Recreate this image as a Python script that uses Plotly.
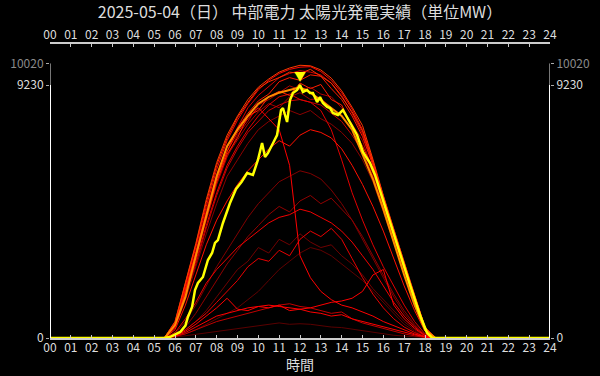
import plotly.graph_objects as go

TITLE = "2025-05-04（日） 中部電力 太陽光発電実績（単位MW）"
X_TITLE = "時間"
HOUR_TICKS = list(range(25))
HOUR_LABELS = [f"{h:02d}" for h in HOUR_TICKS]
Y_TICKS = [0, 9230, 10020]
Y_LABELS = ["0", "9230", "10020"]

HOURS = [0, 5.0, 5.5, 6.0, 6.5, 7.0, 7.5, 8.0, 8.5, 9.0, 9.5, 10.0, 10.5, 11.0, 11.5,
         12.0, 12.5, 13.0, 13.5, 14.0, 14.5, 15.0, 15.5, 16.0, 16.5, 17.0, 17.5, 18.0,
         18.5, 19.0, 24]

# past days (MW), drawn in red shades
L2 = [0, 0, 0, 30, 80, 150, 200, 250, 300, 350, 400, 450, 500, 550, 500, 520, 500, 450, 400, 380, 320, 260, 200, 150, 100, 70, 40, 10, 0, 0, 0]
L12 = [0, 0, 0, 50, 150, 300, 500, 700, 900, 1100, 1400, 1700, 2100, 2500, 2800, 3100, 3300, 3200, 3000, 2700, 2400, 2100, 1700, 1300, 900, 500, 250, 50, 0, 0, 0]
L10 = [0, 0, 0, 80, 300, 600, 1000, 1500, 2000, 2500, 2800, 3300, 3100, 3600, 3400, 3800, 3500, 3300, 3400, 3000, 2700, 2300, 1800, 1400, 1000, 600, 300, 70, 0, 0, 0]
L7 = [0, 0, 0, 150, 600, 1200, 1900, 2600, 3200, 3800, 4400, 4900, 5300, 5700, 5900, 6100, 6000, 5800, 5400, 4900, 4300, 3600, 2900, 2200, 1500, 900, 450, 100, 0, 0, 0]
L5 = [0, 0, 0, 100, 400, 900, 1500, 2100, 2700, 3200, 3700, 4100, 4500, 4800, 4600, 5000, 5200, 4900, 5100, 4700, 4300, 3700, 3000, 2300, 1600, 1000, 500, 120, 0, 0, 0]
C8 = [0, 0, 5, 350, 1400, 2600, 3800, 4900, 5900, 6500, 7100, 7600, 7900, 8100, 8300, 8150, 8300, 8000, 7800, 7500, 7100, 6500, 5700, 4600, 3500, 2350, 1250, 280, 0, 0, 0]
C11 = [0, 0, 5, 420, 1600, 2950, 4350, 5650, 6650, 7250, 7800, 8250, 8550, 8400, 8800, 8950, 8700, 8750, 8400, 8100, 7600, 6900, 6000, 4850, 3700, 2500, 1350, 310, 0, 0, 0]
C5 = [0, 0, 5, 400, 1650, 2900, 4300, 5600, 6600, 7400, 7900, 8500, 8700, 8950, 9200, 9050, 9150, 8900, 8800, 8400, 7800, 7200, 6100, 4900, 3700, 2500, 1350, 300, 0, 0, 0]
L3 = [0, 0, 0, 50, 150, 300, 450, 600, 700, 800, 900, 1000, 1100, 1200, 1250, 1150, 1100, 1000, 900, 950, 700, 550, 450, 350, 250, 150, 80, 20, 0, 0, 0]
C7 = [0, 0, 5, 380, 1500, 2700, 4000, 5200, 6200, 6900, 7500, 7900, 8300, 8500, 8650, 8700, 8600, 8500, 8200, 7900, 7400, 6800, 5900, 4800, 3600, 2450, 1300, 300, 0, 0, 0]
C3 = [0, 0, 15, 480, 1800, 3150, 4650, 5950, 6950, 7700, 8400, 8850, 9180, 9500, 9650, 9750, 9700, 9600, 9300, 8850, 8200, 7450, 6350, 5050, 3850, 2650, 1450, 350, 0, 0, 0]
L9 = [0, 0, 5, 380, 1500, 2800, 4100, 5300, 6300, 7000, 7600, 8100, 8500, 8800, 8900, 8700, 8600, 8300, 7600, 6500, 5300, 4300, 3400, 2600, 1900, 1200, 600, 150, 0, 0, 0]
L13 = [0, 0, 0, 100, 300, 600, 900, 1300, 1700, 2100, 2600, 2900, 2800, 3200, 3000, 3600, 3900, 3700, 4000, 3600, 2900, 2200, 1600, 1100, 700, 400, 200, 50, 0, 0, 0]
L6 = [0, 0, 0, 200, 700, 1300, 2000, 2500, 2900, 3300, 3600, 3900, 4200, 4400, 4500, 4700, 4600, 4400, 4200, 3900, 3500, 3000, 2500, 1900, 1300, 800, 400, 100, 0, 0, 0]
L11 = [0, 0, 5, 300, 1200, 2300, 3400, 4300, 5000, 5600, 6100, 6500, 6900, 7200, 7000, 7400, 7600, 7500, 7300, 6900, 6300, 5600, 4800, 3900, 2900, 1900, 1000, 250, 0, 0, 0]
L1 = [0, 0, 0, 80, 250, 500, 800, 1100, 1450, 1050, 1000, 1150, 1100, 1200, 1000, 1050, 950, 900, 800, 850, 700, 600, 500, 400, 300, 200, 120, 40, 0, 0, 0]
L4 = [0, 0, 0, 60, 200, 400, 600, 800, 900, 1000, 1100, 1150, 1200, 1150, 1100, 1050, 1100, 1200, 1300, 1350, 1450, 1700, 2300, 2500, 1200, 700, 350, 80, 0, 0, 0]
L8 = [0, 0, 10, 450, 1750, 3100, 4500, 5800, 6800, 7500, 8000, 8400, 8000, 7600, 6300, 3000, 2200, 1700, 1400, 1200, 1100, 950, 800, 600, 450, 300, 150, 40, 0, 0, 0]
C4 = [0, 0, 10, 450, 1750, 3050, 4500, 5800, 6800, 7650, 8200, 8650, 8900, 9350, 9500, 9400, 9600, 9550, 9100, 8700, 8100, 7350, 6300, 5000, 3800, 2600, 1400, 330, 0, 0, 0]
C6 = [0, 0, 8, 430, 1700, 3000, 4400, 5700, 6700, 7300, 8100, 8300, 8800, 9000, 8850, 9300, 9100, 9250, 8700, 8500, 7700, 7000, 6200, 4950, 3750, 2550, 1380, 320, 0, 0, 0]
C2 = [0, 0, 10, 520, 1900, 3300, 4800, 6150, 7200, 7950, 8550, 9050, 9400, 9650, 9800, 9880, 9900, 9720, 9400, 8950, 8350, 7600, 6450, 5150, 3900, 2700, 1500, 380, 0, 0, 0]
C10 = [0, 0, 20, 580, 2000, 3400, 4950, 6300, 7300, 8050, 8600, 9100, 9350, 9500, 9700, 9650, 9800, 9550, 9300, 8800, 8250, 7550, 6400, 5150, 3950, 2700, 1500, 390, 0, 0, 0]
C1 = [0, 0, 20, 600, 2050, 3450, 5050, 6400, 7400, 8100, 8700, 9150, 9450, 9700, 9850, 9950, 9930, 9780, 9480, 9020, 8420, 7750, 6520, 5200, 3980, 2750, 1550, 400, 0, 0, 0]

PAST_DAYS = [L2, L12, L10, L7, L5, C8, C11, C5, L3, C7, C3, L9, L13, L6, L11, L1, L4, L8, C4, C6, C2, C10, C1]
PAST_COLORS = ["#5a0000", "#600000", "#700000", "#800000", "#900000", "#8a0000", "#a00000",
               "#b00000", "#c00000", "#c80000", "#d80000", "#e00000", "#e80000", "#f00000",
               "#ff1000", "#ff0000", "#ff0000", "#ff0000", "#ff1a00", "#ff2000", "#ff0000",
               "#ff3000", "#ff3a00"]

# previous day (orange)
PREV_DAY = [0, 0, 0, 474, 1500, 3000, 4500, 5900, 7000, 7600, 8100, 8550, 8800, 8950, 9050, 9150, 8950, 8680, 8390, 8100, 7600, 6700, 5800, 4700, 3500, 2300, 1200, 300, 0, 0, 0]

# today (yellow)
TODAY_HOURS = [0, 5.5, 5.75, 6.0, 6.25, 6.5, 6.62, 6.82, 6.96, 7.1, 7.34, 7.58, 7.78, 7.92,
               8.06, 8.3, 8.64, 8.93, 9.2, 9.46, 9.74, 9.98, 10.18, 10.32, 10.46, 10.66, 10.9,
               11.09, 11.18, 11.38, 11.52, 11.66, 11.86, 12.0, 12.14, 12.34, 12.48, 12.62,
               12.82, 12.96, 13.1, 13.3, 13.44, 13.58, 13.82, 14.06, 14.26, 14.4, 14.74,
               15.02, 15.36, 15.6, 15.98, 16.42, 16.8, 17.28, 17.76, 18.1, 18.35, 24]
TODAY = [0, 0, 36, 120, 219, 450, 766, 1131, 1751, 2006, 2225, 2846, 3101, 3466,
         3575, 4196, 4925, 5436, 5700, 6020, 5947, 6494, 7114, 6603, 6749, 7041, 7406,
         8318, 8391, 7880, 8683, 8938, 9048, 9230, 8975, 9048, 8938, 8938,
         8610, 8792, 8574, 8428, 8391, 8209, 8136, 8318, 8063, 7880, 7406,
         6786, 6384, 5947, 5035, 3940, 3028, 1934, 839, 182, 0, 0]
assert len(TODAY) == len(TODAY_HOURS)
for s in PAST_DAYS + [PREV_DAY]:
    assert len(s) == len(HOURS)

FONT = "Noto Sans CJK JP"
TXT = "#dddddd"
GREY = "#8a8a8a"

fig = go.Figure()
for vals, col in zip(PAST_DAYS, PAST_COLORS):
    fig.add_trace(go.Scatter(x=HOURS, y=vals, mode="lines",
                             line=dict(color=col, width=1), hoverinfo="skip"))
fig.add_trace(go.Scatter(x=HOURS, y=PREV_DAY, mode="lines",
                         line=dict(color="#ff8c00", width=2), hoverinfo="skip"))
fig.add_trace(go.Scatter(x=TODAY_HOURS, y=TODAY, mode="lines",
                         line=dict(color="#ffff00", width=2.5), hoverinfo="skip"))
# dummy traces for the top and right axes
fig.add_trace(go.Scatter(x=[0], y=[0], xaxis="x2", yaxis="y", mode="markers",
                         marker=dict(opacity=0), hoverinfo="skip"))
fig.add_trace(go.Scatter(x=[0], y=[0], xaxis="x", yaxis="y2", mode="markers",
                         marker=dict(opacity=0), hoverinfo="skip"))

peak = max(TODAY)
peak_h = TODAY_HOURS[TODAY.index(peak)]
fig.add_annotation(x=peak_h, y=peak, text="▼", showarrow=False, yshift=10,
                   font=dict(color="#ffff00", size=12, family=FONT))

# x-axis title
fig.add_annotation(xref="paper", yref="paper", x=0.5, y=0, yanchor="bottom",
                   yshift=-38, text=X_TITLE, showarrow=False,
                   font=dict(color=TXT, size=14, family=FONT))

ymax = max(Y_TICKS)
ytop_label = Y_TICKS[1]
for xs in (0, 24):
    fig.add_shape(type="line", xref="x", yref="y", x0=xs, x1=xs, y0=0, y1=ytop_label,
                  line=dict(color="#ffffff", width=2))
    fig.add_shape(type="line", xref="x", yref="y", x0=xs, x1=xs, y0=ytop_label, y1=ymax,
                  line=dict(color="#777777", width=2))

yticktext = [f'<span style="color:{GREY}">{t}</span>' if v == ymax else t
             for v, t in zip(Y_TICKS, Y_LABELS)]

xcommon = dict(range=[0, 24], tickmode="array", tickvals=HOUR_TICKS, ticktext=HOUR_LABELS,
               showgrid=False, zeroline=False, showline=True, linecolor="#cccccc",
               linewidth=2, ticks="inside", ticklen=3, tickcolor="#cccccc",
               automargin=False, ticklabelstandoff=-2,
               tickfont=dict(color=TXT, size=12, family=FONT))
ycommon = dict(range=[0, ymax], domain=[0, 0.931], tickmode="array", tickvals=Y_TICKS,
               ticktext=yticktext, showgrid=False, zeroline=False, showline=False,
               ticks="outside", ticklen=3, tickcolor="#aaaaaa", automargin=False,
               tickfont=dict(color=TXT, size=12, family=FONT))

fig.update_layout(
    width=600, height=376,
    margin=dict(l=50, r=50, t=43, b=38),
    paper_bgcolor="#000000", plot_bgcolor="#000000",
    showlegend=False,
    title=dict(text=TITLE, x=0.5, xanchor="center", y=1 - 12 / 376, yanchor="middle",
               yref="container", automargin=False,
               font=dict(color=TXT, size=16, family=FONT)),
    xaxis=dict(**xcommon),
    xaxis2=dict(**xcommon, overlaying="x", side="top", anchor="free", position=1,
                matches="x"),
    yaxis=dict(**ycommon),
    yaxis2=dict(**ycommon, overlaying="y", side="right", matches="y", anchor="x"),
)

fig.write_html("out.html")
